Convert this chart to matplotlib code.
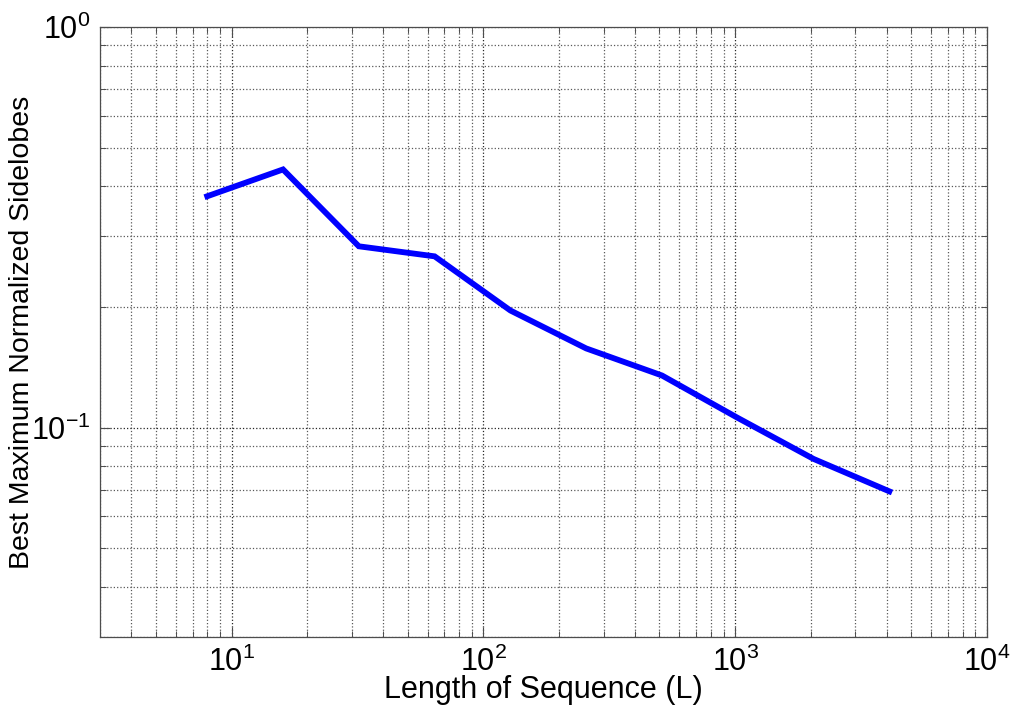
import matplotlib
matplotlib.use("Agg")
import matplotlib.pyplot as plt
from matplotlib.ticker import LogLocator

# Data
seq_length = [8, 16, 32, 64, 128, 256, 512, 1024, 2048, 4096]
best_sidelobes = [0.378, 0.441, 0.2835, 0.2676, 0.196, 0.1576, 0.1349, 0.1057, 0.0835, 0.0693]
x_label = "Length of Sequence (L)"
y_label = "Best Maximum Normalized Sidelobes"

plt.rcParams['font.family'] = ['Liberation Sans', 'DejaVu Sans']
plt.rcParams['mathtext.default'] = 'regular'
plt.rcParams['axes.unicode_minus'] = False

fig = plt.figure(figsize=(10.13, 7.15), dpi=100)
ax = fig.add_axes([0.0987, 0.1091, 0.8756, 0.8531])

ax.loglog(seq_length, best_sidelobes, color=(0, 0, 1), linewidth=4.2,
          solid_joinstyle='miter')

ax.set_xlim(3, 1e4)
ax.set_ylim(0.03, 1)

ax.xaxis.set_major_locator(LogLocator(base=10, numticks=10))
ax.yaxis.set_major_locator(LogLocator(base=10, numticks=10))
ax.xaxis.set_minor_locator(LogLocator(base=10, subs=range(2, 10), numticks=50))
ax.yaxis.set_minor_locator(LogLocator(base=10, subs=range(2, 10), numticks=50))

ax.grid(True, which='major', linestyle=':', color='0.15', linewidth=0.9)
ax.grid(True, which='minor', linestyle=':', color='0.35', linewidth=0.9)

ax.tick_params(which='both', direction='in', top=True, right=True, color='0.3')
ax.tick_params(which='major', length=7, width=0.8, labelsize=22, pad=7)
ax.tick_params(which='minor', length=4, width=0.7)

for s in ax.spines.values():
    s.set_color('0.3')
    s.set_linewidth(0.9)

ax.set_xlabel(x_label, fontsize=22, labelpad=-2)
ax.set_ylabel(y_label, fontsize=20.5)
ax.yaxis.set_label_coords(-0.073, 0.5)

fig.savefig("out.png", dpi=100)
